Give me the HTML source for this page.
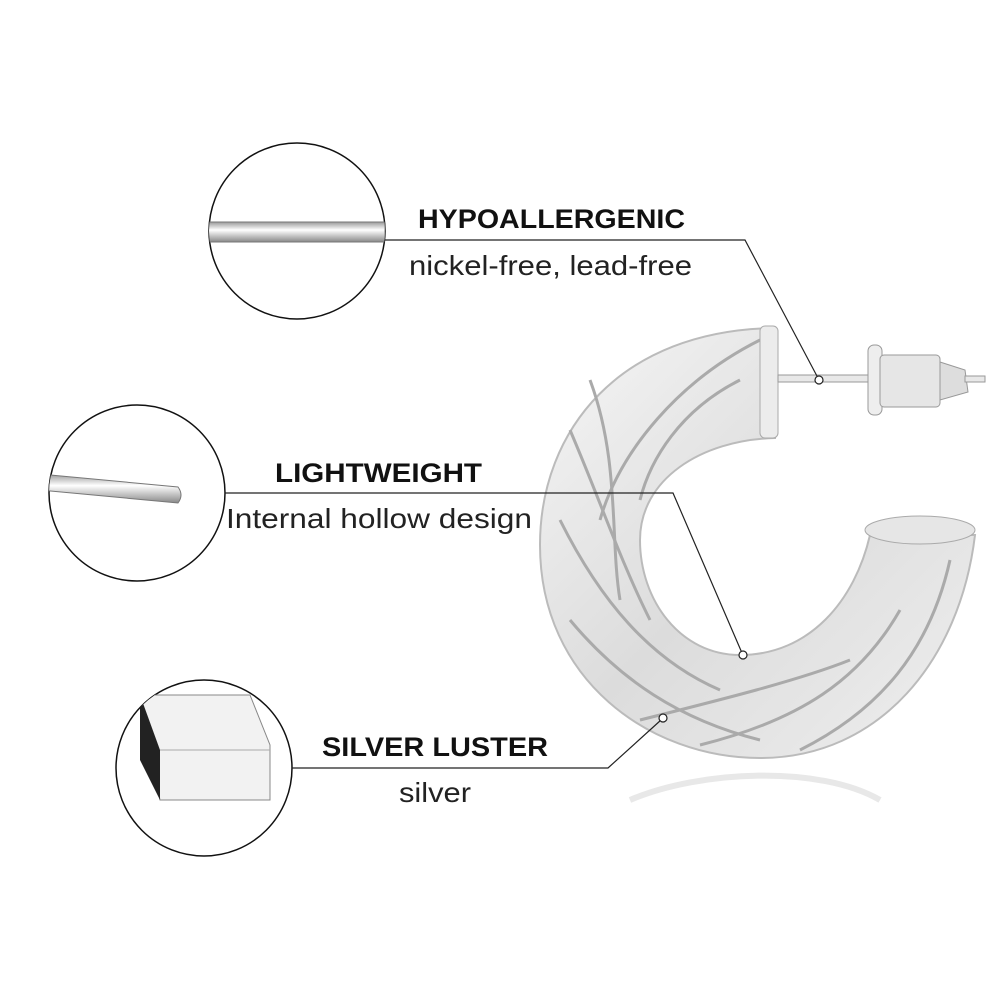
<!DOCTYPE html>
<html><head><meta charset="utf-8"><style>
html,body{margin:0;padding:0;background:#fff;}
svg{display:block}
text{font-family:"Liberation Sans",sans-serif;}
</style></head><body>
<svg width="1000" height="1000" viewBox="0 0 1000 1000" xmlns="http://www.w3.org/2000/svg">
<defs>
<linearGradient id="g" x1="0" y1="0" x2="1" y2="1">
<stop offset="0" stop-color="#f6f6f6"/><stop offset="0.5" stop-color="#dcdcdc"/><stop offset="1" stop-color="#efefef"/>
</linearGradient>
<linearGradient id="rod" x1="0" y1="0" x2="0" y2="1">
<stop offset="0" stop-color="#999"/><stop offset="0.4" stop-color="#fff"/><stop offset="1" stop-color="#888"/>
</linearGradient>
<clipPath id="c1"><circle cx="297" cy="231" r="88"/></clipPath>
<clipPath id="c2"><circle cx="137" cy="493" r="88"/></clipPath>
<clipPath id="c3"><circle cx="204" cy="768" r="88"/></clipPath>
</defs>
<circle cx="297" cy="231" r="88" fill="#fff" stroke="#111" stroke-width="1.5"/>
<g clip-path="url(#c1)"><rect x="200" y="222" width="185" height="20" fill="url(#rod)" stroke="#777"/></g>
<circle cx="137" cy="493" r="88" fill="#fff" stroke="#111" stroke-width="1.5"/>
<g clip-path="url(#c2)"><path d="M40 474 L178 487 Q184 495 178 503 L40 490 Z" fill="url(#rod)" stroke="#777"/></g>
<circle cx="204" cy="768" r="88" fill="#fff" stroke="#111" stroke-width="1.5"/>
<g clip-path="url(#c3)">
<path d="M140 695 L250 695 L270 745 L270 800 L160 800 Z" fill="#f2f2f2" stroke="#888"/>
<path d="M140 695 L160 750 L160 800 L140 760 Z" fill="#222"/>
<path d="M160 750 L270 750" stroke="#aaa"/>
</g>
<text x="418" y="228" font-size="27" font-weight="bold" fill="#111" textLength="267" lengthAdjust="spacingAndGlyphs">HYPOALLERGENIC</text>
<text x="409" y="275" font-size="28" fill="#222" textLength="283" lengthAdjust="spacingAndGlyphs">nickel-free, lead-free</text>
<text x="275" y="482" font-size="27" font-weight="bold" fill="#111" textLength="207" lengthAdjust="spacingAndGlyphs">LIGHTWEIGHT</text>
<text x="226" y="528" font-size="28" fill="#222" textLength="306" lengthAdjust="spacingAndGlyphs">Internal hollow design</text>
<text x="322" y="756" font-size="27" font-weight="bold" fill="#111" textLength="226" lengthAdjust="spacingAndGlyphs">SILVER LUSTER</text>
<text x="399" y="802" font-size="28" fill="#222" textLength="72" lengthAdjust="spacingAndGlyphs">silver</text>
<path d="M 775 328 C 620 330, 540 430, 540 545 C 540 680, 650 758, 760 758 C 880 758, 960 660, 975 535 L 870 535 C 855 600, 810 655, 740 655 C 680 655, 640 600, 640 540 C 640 480, 700 440, 775 438 Z" fill="url(#g)" stroke="#bbb" stroke-width="2"/>
<g fill="none" stroke="#aaa" stroke-width="3">
<path d="M760 340 C680 380 620 450 600 520"/>
<path d="M740 380 C680 410 650 460 640 500"/>
<path d="M570 430 C600 500 620 560 650 620"/>
<path d="M560 520 C600 600 650 660 720 690"/>
<path d="M570 620 C620 680 680 720 760 740"/>
<path d="M640 720 C720 700 800 680 850 660"/>
<path d="M700 745 C800 720 860 680 900 610"/>
<path d="M800 750 C880 710 930 650 950 560"/>
<path d="M590 380 C620 460 610 540 620 600"/>
</g>
<rect x="760" y="326" width="18" height="112" rx="5" fill="#ececec" stroke="#aaa"/>
<ellipse cx="920" cy="530" rx="55" ry="14" fill="#e6e6e6" stroke="#aaa"/>
<rect x="778" y="375" width="92" height="7" fill="#e8e8e8" stroke="#999"/>
<rect x="868" y="345" width="14" height="70" rx="6" fill="#eee" stroke="#999"/>
<rect x="880" y="355" width="60" height="52" rx="4" fill="#e6e6e6" stroke="#999"/>
<path d="M940 362 L965 370 L968 392 L940 400 Z" fill="#ddd" stroke="#999"/>
<rect x="965" y="376" width="20" height="6" fill="#e8e8e8" stroke="#999"/>
<path d="M630 800 C700 770 820 765 880 800" fill="none" stroke="#e8e8e8" stroke-width="6"/>
<g fill="none" stroke="#222" stroke-width="1.2">
<polyline points="385,240 745,240 818,378"/>
<polyline points="225,493 673,493 742,653"/>
<polyline points="292,768 608,768 661,720"/>
</g>
<g fill="#fff" stroke="#222" stroke-width="1.2">
<circle cx="819" cy="380" r="4"/>
<circle cx="743" cy="655" r="4"/>
<circle cx="663" cy="718" r="4"/>
</g>
</svg>
</body></html>
